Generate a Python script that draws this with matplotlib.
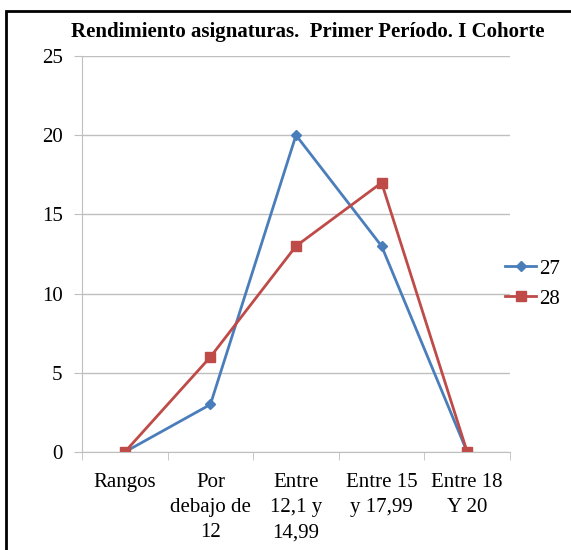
import matplotlib
matplotlib.use('Agg')
from matplotlib import pyplot as plt
from matplotlib.patches import Rectangle

categories = ['Rangos', 'Por\ndebajo de\n12', 'Entre\n12,1 y\n14,99', 'Entre 15\ny 17,99', 'Entre 18\nY 20']
s27 = [0, 3, 20, 13, 0]
s28 = [0, 6, 13, 17, 0]
yticks = [0, 5, 10, 15, 20, 25]

plt.rcParams['font.family'] = ['Liberation Serif', 'DejaVu Serif']

fig = plt.figure(figsize=(5.71, 5.5), dpi=100)
ax = fig.add_axes([82 / 571, 1 - 452 / 550, (510 - 82) / 571, (452 - 56) / 550])

x = list(range(len(categories)))
ax.plot(x, s27, color='#4A7EBB', marker='D', markersize=5.5, linewidth=2, label='27')
ax.plot(x, s28, color='#BE4B48', marker='s', markersize=7, linewidth=2, label='28')

ax.set_xlim(-0.5, len(categories) - 0.5)
ax.set_ylim(0, 25)
ax.set_yticks(yticks)
ax.yaxis.grid(True, color='#BFBFBF', linewidth=1)
ax.set_axisbelow(True)
ax.set_xticks(x)
ax.set_xticklabels(categories, fontsize=15, linespacing=1.45)
ax.set_xticks([i - 0.5 for i in range(len(categories) + 1)], minor=True)
ax.tick_params(axis='x', which='major', length=0, pad=15)
ax.tick_params(axis='x', which='minor', length=6, color='#BFBFBF')
ax.tick_params(axis='y', length=6, color='#BFBFBF', labelsize=15, pad=8)
for side in ['top', 'right']:
    ax.spines[side].set_visible(False)
ax.spines['left'].set_color('#BFBFBF')
ax.spines['bottom'].set_color('#BFBFBF')

fig.text(308 / 571, 1 - 32 / 550, 'Rendimiento asignaturas.  Primer Período. I Cohorte',
         fontsize=15, fontweight='bold', ha='center', va='center')

fig.legend(loc='center left', bbox_to_anchor=(505 / 571, 1 - 284 / 550), frameon=False, fontsize=15,
           handlelength=1.5, handletextpad=0.15, labelspacing=0.5, borderaxespad=0, borderpad=0)

fig.patches.append(Rectangle((6 / 571, -0.05), 1.2, 1 - 11 / 550 + 0.05, transform=fig.transFigure,
                             fill=False, edgecolor='black', linewidth=2))

fig.savefig('out.png', dpi=100)
